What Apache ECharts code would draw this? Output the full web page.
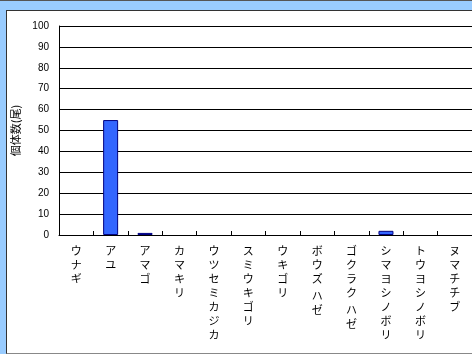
<!DOCTYPE html>
<html><head><meta charset="utf-8">
<script src="https://cdn.jsdelivr.net/npm/echarts@6/dist/echarts.min.js"></script>
<style>
html,body{margin:0;padding:0;width:472px;height:354px;overflow:hidden;background:#99ccff;}
#topline{position:absolute;left:0;top:0;width:472px;height:1px;background:#555;}
#panel{position:absolute;left:6px;top:10px;width:480px;height:342px;background:#fff;border-left:1px solid #333;border-top:1px solid #333;border-bottom:1px solid #888;}
#c{position:absolute;left:0;top:0;width:472px;height:354px;}
</style></head>
<body>
<div id="topline"></div>
<div id="panel"></div>
<div id="c"></div>
<script>
var categories = ['ウナギ','アユ','アマゴ','カマキリ','ウツセミカジカ','スミウキゴリ','ウキゴリ','ボウズ ハゼ','ゴクラク ハゼ','シマヨシノボリ','トウヨシノボリ','ヌマチチブ'];
var counts = [0,55,1,0,0,0,0,0,0,2,0,0];
var yTicks = {min:0, max:100, interval:10};
var yName = '個体数(尾)';

var chart = echarts.init(document.getElementById('c'), null, {renderer:'canvas'});
chart.setOption({
  backgroundColor:'transparent',
  animation:false,
  grid:{left:59, top:26, width:420, height:209, containLabel:false},
  xAxis:{
    type:'category', data:categories,
    axisLine:{lineStyle:{color:'#000', width:1}},
    axisTick:{show:true, inside:true, length:4, alignWithLabel:false, lineStyle:{color:'#000'}},
    axisLabel:{
      interval:0, margin:9, verticalAlign:'top',
      formatter:function(v){
        return v.split('').map(function(ch){return ch===' ' ? '{s| }' : '{c|'+ch+'}';}).join('\n');
      },
      rich:{
        c:{fontFamily:'"Noto Sans CJK JP"', fontSize:11, lineHeight:14, color:'#000'},
        s:{fontSize:3, lineHeight:3}
      }
    },
    splitLine:{show:false}
  },
  yAxis:{
    type:'value', min:yTicks.min, max:yTicks.max, interval:yTicks.interval,
    name:yName, nameLocation:'middle', nameRotate:90, nameGap:33,
    nameTextStyle:{fontFamily:'"Noto Sans CJK JP"', fontSize:11, color:'#000'},
    axisLine:{show:true, lineStyle:{color:'#000', width:1}},
    axisTick:{show:false},
    axisLabel:{margin:10, fontFamily:'"Liberation Sans", Arial', fontSize:10, color:'#000'},
    splitLine:{show:true, lineStyle:{color:'#000', width:1}}
  },
  series:[{
    type:'bar', barWidth:15,
    data:counts.map(function(v){return v === 0 ? null : v;}),
    itemStyle:{color:'#3366ff', borderColor:'#000080', borderWidth:1}
  }]
});
</script>
</body></html>
